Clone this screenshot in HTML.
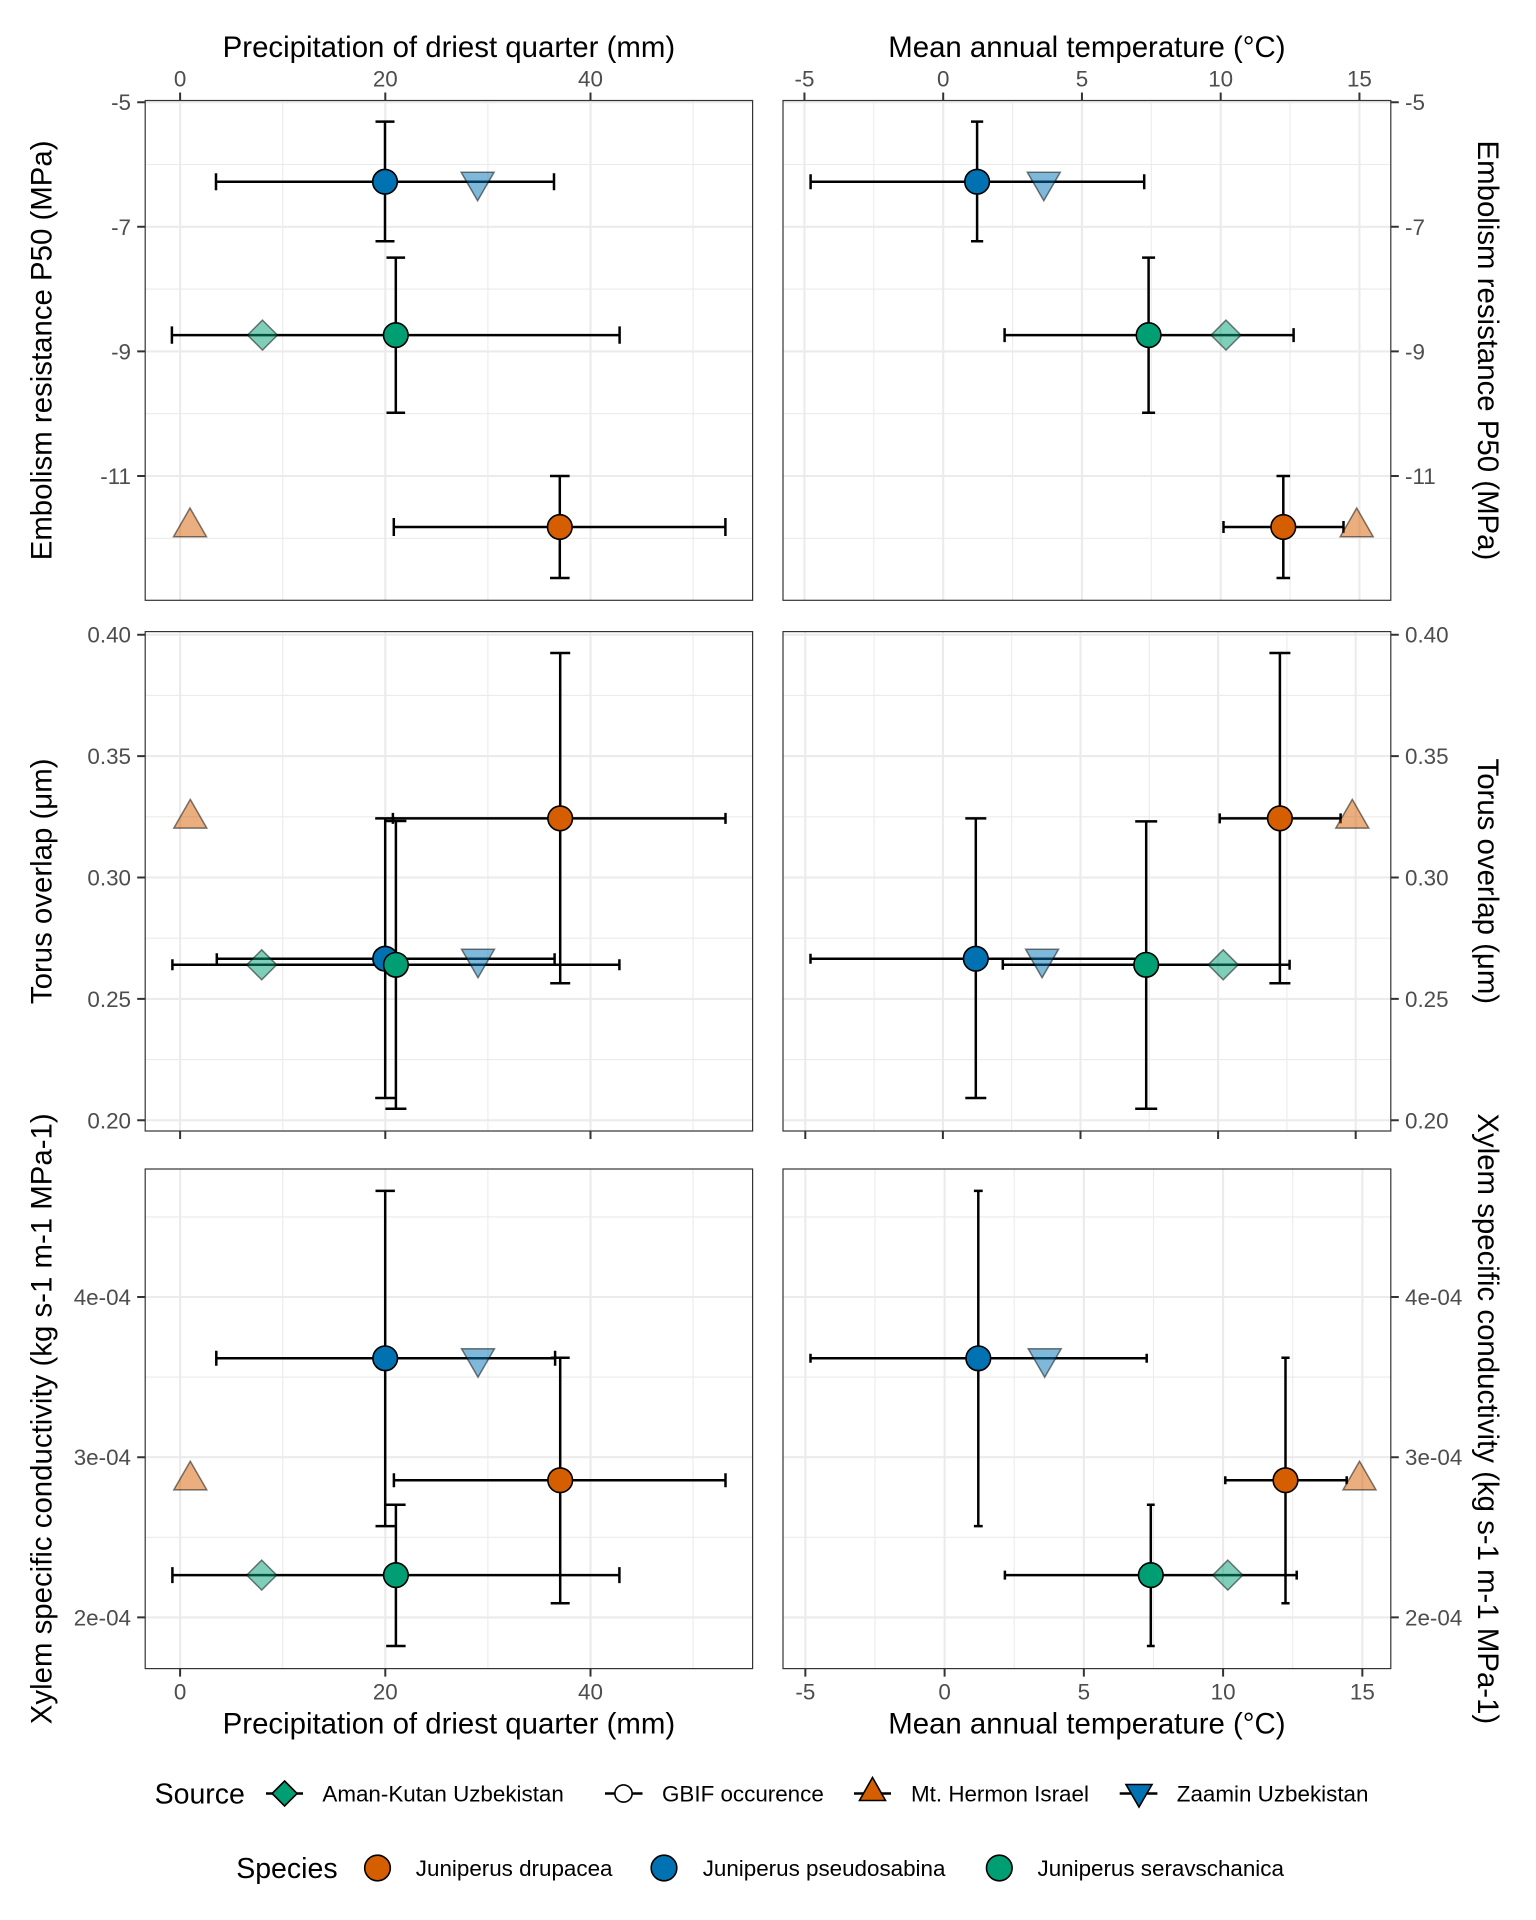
<!DOCTYPE html>
<html>
<head>
<meta charset="utf-8">
<style>
html,body{margin:0;padding:0;background:#fff;}
svg{display:block;}
text{font-family:"Liberation Sans",Arial,sans-serif;}
.tk{font-size:22.4px;fill:#4D4D4D;}
.tt{font-size:29.4px;fill:#000;}
.lt{font-size:28.5px;fill:#000;}
.lg{font-size:22.4px;fill:#000;}
.maj{stroke:#EBEBEB;stroke-width:2.1;fill:none;}
.min{stroke:#EBEBEB;stroke-width:1.1;fill:none;}
.bd{fill:none;stroke:#333;stroke-width:1.2;}
.tick{stroke:#333;stroke-width:2;}
.eb{stroke:#000;stroke-width:2.5;fill:none;}
.co{fill:#D55E00;stroke:#000;stroke-width:1.6;}
.cb{fill:#0072B2;stroke:#000;stroke-width:1.6;}
.cg{fill:#009E73;stroke:#000;stroke-width:1.6;}
.to{fill:#D55E00;fill-opacity:.5;stroke:#000;stroke-opacity:.5;stroke-width:1.5;}
.tb{fill:#0072B2;fill-opacity:.5;stroke:#000;stroke-opacity:.5;stroke-width:1.5;}
.tg{fill:#009E73;fill-opacity:.5;stroke:#000;stroke-opacity:.5;stroke-width:1.5;}
</style>
</head>
<body>
<svg width="1536" height="1920" viewBox="0 0 1536 1920" xmlns="http://www.w3.org/2000/svg">
<rect x="0" y="0" width="1536" height="1920" fill="#fff"/>

<!-- ================= TOP ROW ================= -->
<g>
<rect x="145.2" y="100.5" width="607.4" height="499.8" fill="#fff"/>
<path class="min" d="M282.7 100.5V600.3M487.9 100.5V600.3M693.1 100.5V600.3M145.2 164.5H752.6M145.2 289.1H752.6M145.2 413.7H752.6M145.2 538.3H752.6"/>
<path class="maj" d="M180.1 100.5V600.3M385.3 100.5V600.3M590.5 100.5V600.3M145.2 102.2H752.6M145.2 226.8H752.6M145.2 351.4H752.6M145.2 476H752.6"/>
</g>
<g>
<path class="min" d="M873.8 100.5V600.3M1012.6 100.5V600.3M1151.3 100.5V600.3M1290.1 100.5V600.3M783 164.5H1390.8M783 289.1H1390.8M783 413.7H1390.8M783 538.3H1390.8"/>
<path class="maj" d="M804.45 100.5V600.3M943.2 100.5V600.3M1081.95 100.5V600.3M1220.7 100.5V600.3M1359.45 100.5V600.3M783 102.2H1390.8M783 226.8H1390.8M783 351.4H1390.8M783 476H1390.8"/>
</g>

<!-- TL -->
<path class="eb" d="M385 121.6V241.3M375.5 121.6H394.5M375.5 241.3H394.5M216 181.7H554M216 173.2V190.2M554 173.2V190.2"/>
<path class="eb" d="M395.8 257.6V412.7M386.5 257.6H405.1M386.5 412.7H405.1M171.9 335.1H619.6M171.9 326.4V343.8M619.6 326.4V343.8"/>
<path class="eb" d="M559.8 476V578M550 476H569.6M550 578H569.6M393.8 527H725.4M393.8 518V536M725.4 518V536"/>
<circle class="cb" cx="385" cy="181.7" r="12.3"/>
<circle class="cg" cx="395.8" cy="335.1" r="12.3"/>
<circle class="co" cx="559.8" cy="527" r="12.3"/>
<polygon class="tb" transform="translate(477.6,181.7)" points="-16.5,-9.5 16.5,-9.5 0,19"/>
<polygon class="to" transform="translate(190,527)" points="0,-19 -16.5,9.7 16.5,9.7"/>
<polygon class="tg" transform="translate(262.5,335.1)" points="0,-15 15,0 0,15 -15,0"/>

<!-- TR -->
<path class="eb" d="M977.1 121.6V241.3M971 121.6H983.2M971 241.3H983.2M810.6 181.7H1144.2M810.6 174.2V189.2M1144.2 174.2V189.2"/>
<path class="eb" d="M1148.6 257.6V412.7M1142.1 257.6H1155.1M1142.1 412.7H1155.1M1004.6 335.1H1293.6M1004.6 328.1V342.1M1293.6 328.1V342.1"/>
<path class="eb" d="M1283.3 476V578M1276.5 476H1290.1M1276.5 578H1290.1M1223.5 527H1343.5M1223.5 521V533M1343.5 521V533"/>
<circle class="cb" cx="977.1" cy="181.7" r="12.3"/>
<circle class="cg" cx="1148.6" cy="335.1" r="12.3"/>
<circle class="co" cx="1283.3" cy="527" r="12.3"/>
<polygon class="tb" transform="translate(1043.8,181.7)" points="-16.5,-9.5 16.5,-9.5 0,19"/>
<polygon class="to" transform="translate(1356.7,527)" points="0,-19 -16.5,9.7 16.5,9.7"/>
<polygon class="tg" transform="translate(1226,335.1)" points="0,-15 15,0 0,15 -15,0"/>

<rect class="bd" x="145.2" y="100.5" width="607.4" height="499.8"/>
<rect class="bd" x="783" y="100.5" width="607.8" height="499.8"/>

<path class="tick" d="M180.1 92.5V100.5M385.3 92.5V100.5M590.5 92.5V100.5M804.45 92.5V100.5M943.2 92.5V100.5M1081.95 92.5V100.5M1220.7 92.5V100.5M1359.45 92.5V100.5"/>
<path class="tick" d="M137.2 102.2H145.2M137.2 226.8H145.2M137.2 351.4H145.2M137.2 476H145.2M1390.8 102.2H1398.8M1390.8 226.8H1398.8M1390.8 351.4H1398.8M1390.8 476H1398.8"/>
<g class="tk" text-anchor="middle">
<text x="180.1" y="86.5">0</text>
<text x="385.3" y="86.5">20</text>
<text x="590.5" y="86.5">40</text>
<text x="804.45" y="86.5">-5</text>
<text x="943.2" y="86.5">0</text>
<text x="1081.95" y="86.5">5</text>
<text x="1220.7" y="86.5">10</text>
<text x="1359.45" y="86.5">15</text>
</g>
<g class="tk" text-anchor="end">
<text x="131" y="110.2">-5</text>
<text x="131" y="234.8">-7</text>
<text x="131" y="359.4">-9</text>
<text x="131" y="484">-11</text>
</g>
<g class="tk" text-anchor="start">
<text x="1405" y="110.2">-5</text>
<text x="1405" y="234.8">-7</text>
<text x="1405" y="359.4">-9</text>
<text x="1405" y="484">-11</text>
</g>

<!-- ================= MIDDLE ROW ================= -->
<path class="min" d="M282.7 631.6V1131M487.9 631.6V1131M693.1 631.6V1131M145.2 695.4H752.6M145.2 816.8H752.6M145.2 938.2H752.6M145.2 1059.6H752.6"/>
<path class="maj" d="M180.1 631.6V1131M385.3 631.6V1131M590.5 631.6V1131M145.2 634.7H752.6M145.2 756.1H752.6M145.2 877.5H752.6M145.2 998.9H752.6M145.2 1120.3H752.6"/>
<path class="min" d="M874.1 631.6V1131M1011.7 631.6V1131M1149.3 631.6V1131M1286.9 631.6V1131M783 695.4H1390.8M783 816.8H1390.8M783 938.2H1390.8M783 1059.6H1390.8"/>
<path class="maj" d="M805.3 631.6V1131M942.9 631.6V1131M1080.5 631.6V1131M1218.1 631.6V1131M1355.7 631.6V1131M783 634.7H1390.8M783 756.1H1390.8M783 877.5H1390.8M783 998.9H1390.8M783 1120.3H1390.8"/>

<!-- ML -->
<path class="eb" d="M385.2 818.4V1098M375.2 818.4H395.2M375.2 1098H395.2M216.8 958.7H554.6M216.8 953.2V964.2M554.6 953.2V964.2"/>
<path class="eb" d="M395.9 821V1108.7M385.4 821H406.4M385.4 1108.7H406.4M172.4 964.8H619.4M172.4 959.3V970.3M619.4 959.3V970.3"/>
<path class="eb" d="M560.2 653V983.2M550.2 653H570.2M550.2 983.2H570.2M392.9 818.4H725.5M392.9 812.9V823.9M725.5 812.9V823.9"/>
<circle class="co" cx="560.2" cy="818.4" r="12.3"/>
<circle class="cb" cx="385.2" cy="958.7" r="12.3"/>
<circle class="cg" cx="395.9" cy="964.8" r="12.3"/>
<polygon class="to" transform="translate(190.3,818.4)" points="0,-19 -16.5,9.7 16.5,9.7"/>
<polygon class="tg" transform="translate(261.7,964.8)" points="0,-15 15,0 0,15 -15,0"/>
<polygon class="tb" transform="translate(478,958.7)" points="-16.5,-9.5 16.5,-9.5 0,19"/>

<!-- MR -->
<path class="eb" d="M975.8 818.4V1098M965.3 818.4H986.3M965.3 1098H986.3M810.5 958.7H1143.2M810.5 953.7V963.7M1143.2 953.7V963.7"/>
<path class="eb" d="M1146.2 821.4V1108.7M1135.2 821.4H1157.2M1135.2 1108.7H1157.2M1002.8 964.8H1289.6M1002.8 959.8V969.8M1289.6 959.8V969.8"/>
<path class="eb" d="M1279.9 653V983.2M1269.4 653H1290.4M1269.4 983.2H1290.4M1219.7 818.4H1340.6M1219.7 813.4V823.4M1340.6 813.4V823.4"/>
<circle class="co" cx="1279.9" cy="818.4" r="12.3"/>
<circle class="cb" cx="975.8" cy="958.7" r="12.3"/>
<circle class="cg" cx="1146.2" cy="964.8" r="12.3"/>
<polygon class="to" transform="translate(1352.3,818.4)" points="0,-19 -16.5,9.7 16.5,9.7"/>
<polygon class="tg" transform="translate(1223.2,964.8)" points="0,-15 15,0 0,15 -15,0"/>
<polygon class="tb" transform="translate(1042.1,958.7)" points="-16.5,-9.5 16.5,-9.5 0,19"/>

<rect class="bd" x="145.2" y="631.6" width="607.4" height="499.4"/>
<rect class="bd" x="783" y="631.6" width="607.8" height="499.4"/>

<path class="tick" d="M180.1 1131V1139M385.3 1131V1139M590.5 1131V1139M805.3 1131V1139M942.9 1131V1139M1080.5 1131V1139M1218.1 1131V1139M1355.7 1131V1139"/>
<path class="tick" d="M137.2 634.7H145.2M137.2 756.1H145.2M137.2 877.5H145.2M137.2 998.9H145.2M137.2 1120.3H145.2M1390.8 634.7H1398.8M1390.8 756.1H1398.8M1390.8 877.5H1398.8M1390.8 998.9H1398.8M1390.8 1120.3H1398.8"/>
<g class="tk" text-anchor="end">
<text x="131" y="642.7">0.40</text>
<text x="131" y="764.1">0.35</text>
<text x="131" y="885.5">0.30</text>
<text x="131" y="1006.9">0.25</text>
<text x="131" y="1128.3">0.20</text>
</g>
<g class="tk" text-anchor="start">
<text x="1405" y="642.7">0.40</text>
<text x="1405" y="764.1">0.35</text>
<text x="1405" y="885.5">0.30</text>
<text x="1405" y="1006.9">0.25</text>
<text x="1405" y="1128.3">0.20</text>
</g>

<!-- ================= BOTTOM ROW ================= -->
<path class="min" d="M282.7 1169V1668.6M487.9 1169V1668.6M693.1 1169V1668.6M145.2 1216.9H752.6M145.2 1377.1H752.6M145.2 1537.3H752.6"/>
<path class="maj" d="M180.1 1169V1668.6M385.3 1169V1668.6M590.5 1169V1668.6M145.2 1297H752.6M145.2 1457.2H752.6M145.2 1617.4H752.6"/>
<path class="min" d="M875 1169V1668.6M1014.2 1169V1668.6M1153.5 1169V1668.6M1292.7 1169V1668.6M783 1216.9H1390.8M783 1377.1H1390.8M783 1537.3H1390.8"/>
<path class="maj" d="M805.35 1169V1668.6M944.6 1169V1668.6M1083.85 1169V1668.6M1223.1 1169V1668.6M1362.35 1169V1668.6M783 1297H1390.8M783 1457.2H1390.8M783 1617.4H1390.8"/>

<!-- BL -->
<path class="eb" d="M385.2 1190.9V1526.1M375.5 1190.9H394.9M375.5 1526.1H394.9M216.3 1358.3H555.1M216.3 1350.8V1365.8M555.1 1350.8V1365.8"/>
<path class="eb" d="M560.2 1357.8V1603.2M550.7 1357.8H569.7M550.7 1603.2H569.7M393.9 1480.2H725.5M393.9 1473.2V1487.2M725.5 1473.2V1487.2"/>
<path class="eb" d="M395.9 1504.7V1646M386.2 1504.7H405.6M386.2 1646H405.6M172.4 1575.1H619.4M172.4 1567.1V1583.1M619.4 1567.1V1583.1"/>
<circle class="co" cx="560.2" cy="1480.2" r="12.3"/>
<circle class="cb" cx="385.2" cy="1358.3" r="12.3"/>
<circle class="cg" cx="395.9" cy="1575.1" r="12.3"/>
<polygon class="to" transform="translate(190.3,1480.2)" points="0,-19 -16.5,9.7 16.5,9.7"/>
<polygon class="tg" transform="translate(261.7,1575.1)" points="0,-15 15,0 0,15 -15,0"/>
<polygon class="tb" transform="translate(478,1358.3)" points="-16.5,-9.5 16.5,-9.5 0,19"/>

<!-- BR -->
<path class="eb" d="M978.3 1190.9V1526.1M973.9 1190.9H982.7M973.9 1526.1H982.7M810.5 1358.3H1146.7M810.5 1353.8V1362.8M1146.7 1353.8V1362.8"/>
<path class="eb" d="M1285.5 1357.8V1603.2M1281.4 1357.8H1289.6M1281.4 1603.2H1289.6M1225.3 1480.2H1346.7M1225.3 1476.2V1484.2M1346.7 1476.2V1484.2"/>
<path class="eb" d="M1150.8 1504.7V1646M1146.9 1504.7H1154.7M1146.9 1646H1154.7M1004.9 1575.1H1296.7M1004.9 1570.6V1579.6M1296.7 1570.6V1579.6"/>
<circle class="co" cx="1285.5" cy="1480.2" r="12.3"/>
<circle class="cb" cx="978.3" cy="1358.3" r="12.3"/>
<circle class="cg" cx="1150.8" cy="1575.1" r="12.3"/>
<polygon class="to" transform="translate(1359.5,1480.2)" points="0,-19 -16.5,9.7 16.5,9.7"/>
<polygon class="tg" transform="translate(1227.8,1575.1)" points="0,-15 15,0 0,15 -15,0"/>
<polygon class="tb" transform="translate(1044.7,1358.3)" points="-16.5,-9.5 16.5,-9.5 0,19"/>

<rect class="bd" x="145.2" y="1169" width="607.4" height="499.6"/>
<rect class="bd" x="783" y="1169" width="607.8" height="499.6"/>

<path class="tick" d="M180.1 1668.6V1676.6M385.3 1668.6V1676.6M590.5 1668.6V1676.6M805.35 1668.6V1676.6M944.6 1668.6V1676.6M1083.85 1668.6V1676.6M1223.1 1668.6V1676.6M1362.35 1668.6V1676.6"/>
<path class="tick" d="M137.2 1297H145.2M137.2 1457.2H145.2M137.2 1617.4H145.2M1390.8 1297H1398.8M1390.8 1457.2H1398.8M1390.8 1617.4H1398.8"/>
<g class="tk" text-anchor="middle">
<text x="180.1" y="1699.5">0</text>
<text x="385.3" y="1699.5">20</text>
<text x="590.5" y="1699.5">40</text>
<text x="805.35" y="1699.5">-5</text>
<text x="944.6" y="1699.5">0</text>
<text x="1083.85" y="1699.5">5</text>
<text x="1223.1" y="1699.5">10</text>
<text x="1362.35" y="1699.5">15</text>
</g>
<g class="tk" text-anchor="end">
<text x="131" y="1305">4e-04</text>
<text x="131" y="1465.2">3e-04</text>
<text x="131" y="1625.4">2e-04</text>
</g>
<g class="tk" text-anchor="start">
<text x="1405" y="1305">4e-04</text>
<text x="1405" y="1465.2">3e-04</text>
<text x="1405" y="1625.4">2e-04</text>
</g>

<!-- ================= AXIS TITLES ================= -->
<g class="tt" text-anchor="middle">
<text x="448.9" y="57">Precipitation of driest quarter (mm)</text>
<text x="1086.9" y="57">Mean annual temperature (°C)</text>
<text x="448.9" y="1733.5">Precipitation of driest quarter (mm)</text>
<text x="1086.9" y="1733.5">Mean annual temperature (°C)</text>
<text transform="translate(51.5,350.4) rotate(-90)">Embolism resistance P50 (MPa)</text>
<text transform="translate(51.5,881.3) rotate(-90)">Torus overlap (μm)</text>
<text transform="translate(51.5,1418.8) rotate(-90)">Xylem specific conductivity (kg s-1 m-1 MPa-1)</text>
<text transform="translate(1478,350.4) rotate(90)">Embolism resistance P50 (MPa)</text>
<text transform="translate(1478,881.3) rotate(90)">Torus overlap (μm)</text>
<text transform="translate(1478,1418.8) rotate(90)">Xylem specific conductivity (kg s-1 m-1 MPa-1)</text>
</g>

<!-- ================= LEGEND ================= -->
<text class="lt" x="154.6" y="1803.5">Source</text>
<path class="eb" d="M266 1793.5H303"/>
<polygon class="cg" transform="translate(284.6,1793.5)" points="0,-12.5 12.5,0 0,12.5 -12.5,0"/>
<text class="lg" x="322.4" y="1801.5">Aman-Kutan Uzbekistan</text>
<path class="eb" d="M605 1793.5H642.5"/>
<circle cx="623.5" cy="1793.5" r="8.6" fill="#fff" stroke="#000" stroke-width="1.6"/>
<text class="lg" x="662" y="1801.5">GBIF occurence</text>
<path class="eb" d="M854 1793.5H891"/>
<polygon class="co" transform="translate(872.5,1793.5)" points="0,-16 -13,7 13,7"/>
<text class="lg" x="911" y="1801.5">Mt. Hermon Israel</text>
<path class="eb" d="M1119.7 1793.5H1157.4"/>
<polygon class="cb" transform="translate(1139,1793.5)" points="-13,-9 13,-9 0,13.5"/>
<text class="lg" x="1176.8" y="1801.5">Zaamin Uzbekistan</text>

<text class="lt" x="236.2" y="1878">Species</text>
<circle class="co" cx="377.5" cy="1868" r="12.8"/>
<text class="lg" x="415.8" y="1876">Juniperus drupacea</text>
<circle class="cb" cx="664" cy="1868" r="12.8"/>
<text class="lg" x="702.7" y="1876">Juniperus pseudosabina</text>
<circle class="cg" cx="999.3" cy="1868" r="12.8"/>
<text class="lg" x="1037.5" y="1876">Juniperus seravschanica</text>
</svg>
</body>
</html>
